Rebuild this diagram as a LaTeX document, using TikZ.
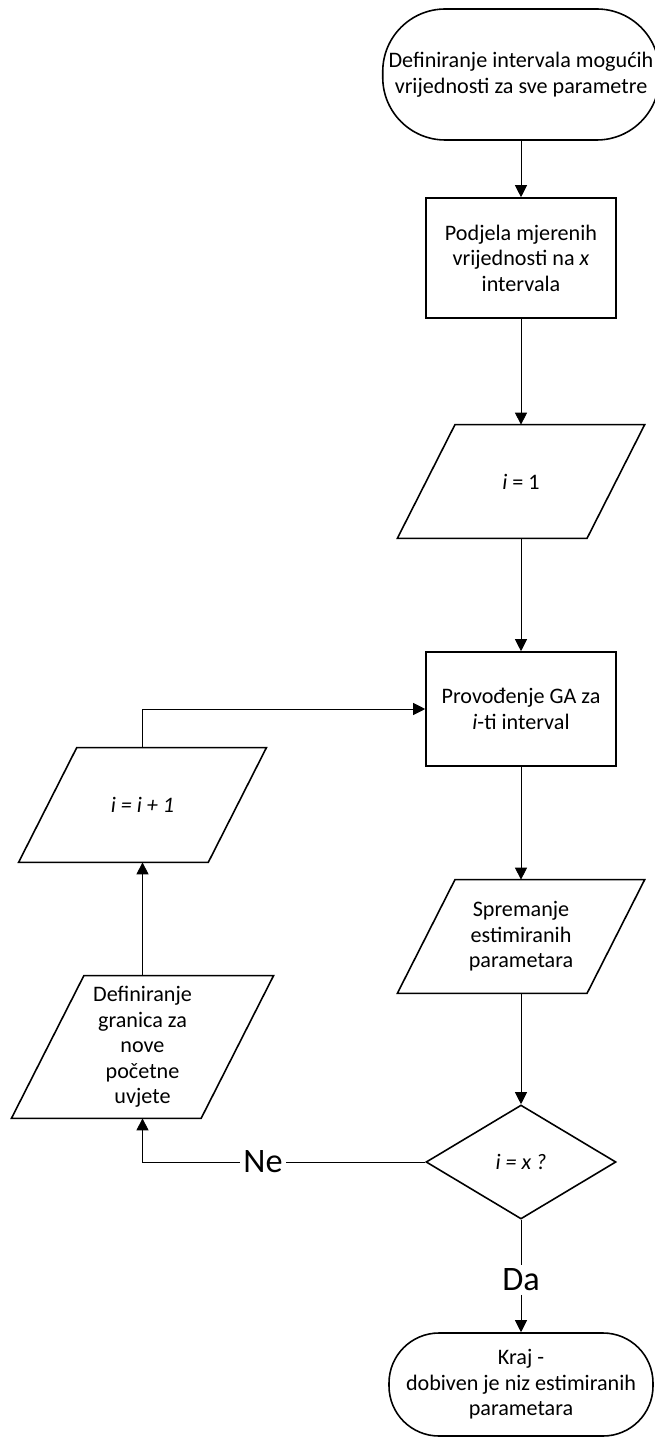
\documentclass[tikz,border=0pt]{standalone}
\usepackage{fontspec}
\setmainfont{Carlito}
\usetikzlibrary{shapes.geometric,arrows.meta}

\begin{document}
\begin{tikzpicture}[
    term/.style={draw, line width=0.9pt, rounded corners=1.25cm, minimum width=5.28cm, minimum height=2.62cm, align=center},
    proc/.style={draw, line width=0.9pt, minimum width=3.8cm, minimum height=2.4cm, align=center},
    io/.style={minimum width=3.78cm, minimum height=#1, align=center, inner sep=1pt,
        append after command={\pgfextra{\draw[line width=0.9pt]
            ([xshift=0.255*#1]\tikzlastnode.north west) -- ([xshift=0.255*#1]\tikzlastnode.north east)
            -- ([xshift=-0.255*#1]\tikzlastnode.south east) -- ([xshift=-0.255*#1]\tikzlastnode.south west) -- cycle;}}},
    io/.default=2.26cm,
    dec/.style={diamond, draw, line width=0.9pt, minimum width=3.8cm, minimum height=2.28cm, inner sep=0pt},
    lbl/.style={font=\fontsize{19.5}{22}\selectfont, inner sep=2pt},
    arr/.style={-{Triangle[length=2.4mm, width=2.4mm]}, line width=0.5pt},
    ln/.style={line width=0.5pt},
    font=\fontsize{12.6}{14.5}\selectfont
]
    \useasboundingbox (0,0) rectangle (13.08,-28.82);

    % main column
    \node[term] (start) at (10.42,-1.49) {Definiranje intervala mogućih\\vrijednosti za sve parametre};
    \node[proc] (split) at (10.42,-5.16) {Podjela mjerenih\\vrijednosti na \textit{x}\\intervala};
    \node[io] (init) at (10.42,-9.63) {\textit{i} = 1};
    \node[proc, minimum height=2.28cm] (ga) at (10.42,-14.18) {Provođenje GA za\\\textit{i}-ti interval};
    \node[io] (save) at (10.42,-18.73) {Spremanje\\estimiranih\\parametara};
    \node[dec] (check) at (10.42,-23.24) {\textit{i = x ?}};
    \node[lbl] (da) at (10.42,-25.6) {Da};
    \node[term, rounded corners=1cm, minimum height=2.06cm] (stop) at (10.42,-27.69) {Kraj -\\dobiven je niz estimiranih\\parametara};

    % loop back
    \node[io=2.28cm] (incr) at (2.85,-16.1) {\textit{i = i + 1}};
    \node[io=2.84cm] (bounds) at (2.85,-20.94) {Definiranje\\granica za\\nove\\početne\\uvjete};
    \node[lbl] (ne) at (5.26,-23.24) {Ne};

    \draw[arr] (start) -- (split);
    \draw[arr] (split) -- (init);
    \draw[arr] (init) -- (ga);
    \draw[arr] (ga) -- (save);
    \draw[arr] (save) -- (check);
    \draw[ln] (check) -- (da);
    \draw[arr] (da) -- (stop);
    \draw[ln] (check) -- (ne);
    \draw[arr] (ne) -| (bounds);
    \draw[arr] (bounds) -- (incr);
    \draw[arr] (incr) |- (ga);
\end{tikzpicture}
\end{document}
